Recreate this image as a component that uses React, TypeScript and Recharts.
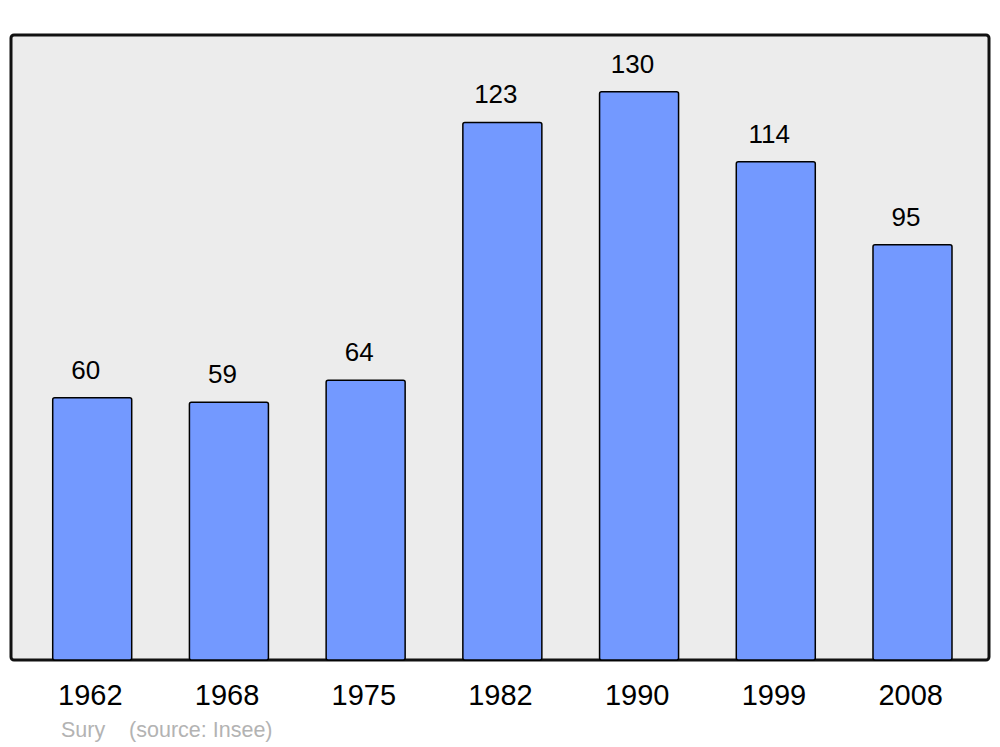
import { BarChart, Bar, XAxis, YAxis, LabelList, ReferenceArea } from 'recharts';

// Population of Sury by census year (Insee)
const years = ['1962', '1968', '1975', '1982', '1990', '1999', '2008'];
const population = [60, 59, 64, 123, 130, 114, 95];

const data = years.map((year, i) => ({ year, population: population[i] }));

const FONT = '"Liberation Sans", Arial, sans-serif';

export default function App() {
  return (
    <div style={{ position: 'fixed', left: 0, top: 0, width: 1000, height: 747, background: '#fff', fontFamily: FONT }}>
      <BarChart
        width={1000}
        height={747}
        data={data}
        margin={{ top: 35, right: 11, bottom: 0, left: 11 }}
        barCategoryGap="21%"
      >
        {/* hidden axis without padding so the frame spans the whole plot */}
        <XAxis xAxisId="frame" type="number" hide />
        <ReferenceArea
          xAxisId="frame"
          y1={0}
          y2={143}
          fill="#ececec"
          fillOpacity={1}
          stroke="#111"
          strokeWidth={3}
          radius={3}
          zIndex={-100}
        />
        <XAxis
          dataKey="year"
          height={87}
          axisLine={false}
          tickLine={false}
          tickSize={0}
          tickMargin={24}
          padding={{ left: 13, right: 8 }}
          interval={0}
          tick={{ fill: '#000', fontSize: 29, fontFamily: FONT, dx: -2 }}
        />
        <YAxis hide domain={[0, 143]} />
        <Bar
          dataKey="population"
          fill="#7399ff"
          stroke="#000"
          strokeWidth={1.5}
          radius={2}
          isAnimationActive={false}
        >
          <LabelList
            dataKey="population"
            position="top"
            offset={19}
            dx={-6.5}
            fill="#000"
            fontSize={26}
            fontFamily={FONT}
          />
        </Bar>
      </BarChart>
      <div
        style={{
          position: 'absolute',
          left: 61,
          top: 718,
          fontSize: 21.5,
          color: '#b3b3b3',
          whiteSpace: 'pre',
          fontFamily: FONT,
        }}
      >
        {'Sury    (source: Insee)'}
      </div>
    </div>
  );
}
